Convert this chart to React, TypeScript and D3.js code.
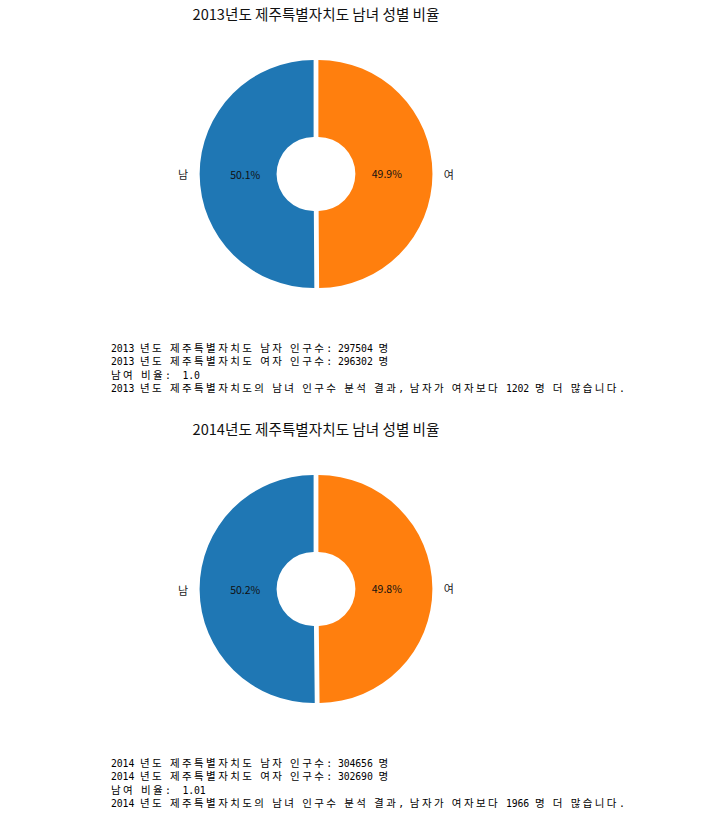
import React from "react";
import * as d3 from "d3";

const YEARS = [2013, 2014];
const MALE = [297504, 304656];
const FEMALE = [296302, 302690];
const RATIO_LABELS = ["1.0", "1.01"];
const CATEGORIES = ["남", "여"];
const REGION = "제주특별자치도";
const COLORS = ["#1f77b4", "#ff7f0e"];

const W = 715;
const H = 825;
const BLOCK = 415;
const CX = 316;
const CY = 174;
const R = 114;
const R_IN = 37;
const EXPLODE = 2.4;

const FONT = "'Noto Sans CJK KR', 'Noto Sans', sans-serif";
const MONO = "'DejaVu Sans Mono', 'Liberation Mono', monospace";

function splitRuns(t: string) {
  const runs: { s: string; ko: boolean }[] = [];
  const re = /([\uAC00-\uD7A3]+)|([^\uAC00-\uD7A3]+)/g;
  let m: RegExpExecArray | null;
  while ((m = re.exec(t)) !== null) {
    runs.push({ s: m[0], ko: !!m[1] });
  }
  return runs;
}

function Donut({ idx }: { idx: number }) {
  const values = [MALE[idx], FEMALE[idx]];
  const total = values[0] + values[1];
  const pie = d3
    .pie<number>()
    .sort(null)
    .startAngle(0)
    .endAngle(-2 * Math.PI)(values);
  const arc = d3.arc<d3.PieArcDatum<number>>().innerRadius(R_IN).outerRadius(R);
  const oy = idx * BLOCK;
  const year = YEARS[idx];
  const diff = MALE[idx] - FEMALE[idx];
  const lines = [
    `${year} 년도 ${REGION} 남자 인구수: ${MALE[idx]} 명`,
    `${year} 년도 ${REGION} 여자 인구수: ${FEMALE[idx]} 명`,
    `남여 비율:  ${RATIO_LABELS[idx]}`,
    `${year} 년도 ${REGION}의 남녀 인구수 분석 결과, 남자가 여자보다 ${diff} 명 더 많습니다.`,
  ];
  return (
    <g transform={`translate(0,${oy})`}>
      <text
        x={CX}
        y={20}
        textAnchor="middle"
        fontFamily={FONT}
        fontSize={14.6}
        fill="#111"
      >
        {`${year}년도 ${REGION} 남녀 성별 비율`}
      </text>
      <g transform={`translate(${CX},${CY})`}>
        {pie.map((d, i) => {
          const m = (d.startAngle + d.endAngle) / 2;
          const dx = Math.sin(m) * EXPLODE;
          const dy = -Math.cos(m) * EXPLODE;
          const pctR = 0.6 * R;
          const labR = 1.1 * R;
          const px = dx + Math.sin(m) * pctR;
          const py = dy - Math.cos(m) * pctR;
          const lx = dx + Math.sin(m) * labR;
          const ly = dy - Math.cos(m) * labR;
          const pct = ((d.value / total) * 100).toFixed(1) + "%";
          return (
            <g key={i}>
              <path
                d={arc(d) || ""}
                transform={`translate(${dx},${dy})`}
                fill={COLORS[i]}
              />
              <text
                x={px}
                y={py}
                textAnchor="middle"
                dominantBaseline="central"
                fontFamily={FONT}
                fontSize={10.5}
                fill="#111"
              >
                {pct}
              </text>
              <text
                x={lx}
                y={ly}
                textAnchor={lx < 0 ? "end" : "start"}
                dominantBaseline="central"
                fontFamily={FONT}
                fontSize={11}
                fill="#222"
              >
                {CATEGORIES[i]}
              </text>
            </g>
          );
        })}
      </g>
      {lines.map((t, k) => (
        <text
          key={k}
          x={111}
          y={352 + k * 13.3}
          fill="#000"
          style={{ whiteSpace: "pre" }}
        >
          {splitRuns(t).map((r, j) =>
            r.ko ? (
              <tspan key={j} fontFamily={FONT} fontSize={10.5} letterSpacing={2.4}>
                {r.s}
              </tspan>
            ) : (
              <tspan key={j} fontFamily={MONO} fontSize={9.8} letterSpacing={-0.1}>
                {r.s}
              </tspan>
            )
          )}
        </text>
      ))}
    </g>
  );
}

export default function App() {
  return (
    <svg
      width={W}
      height={H}
      style={{ position: "absolute", left: 0, top: 0, background: "#fff" }}
    >
      <rect width={W} height={H} fill="#fff" />
      {YEARS.map((_, i) => (
        <Donut key={i} idx={i} />
      ))}
    </svg>
  );
}
